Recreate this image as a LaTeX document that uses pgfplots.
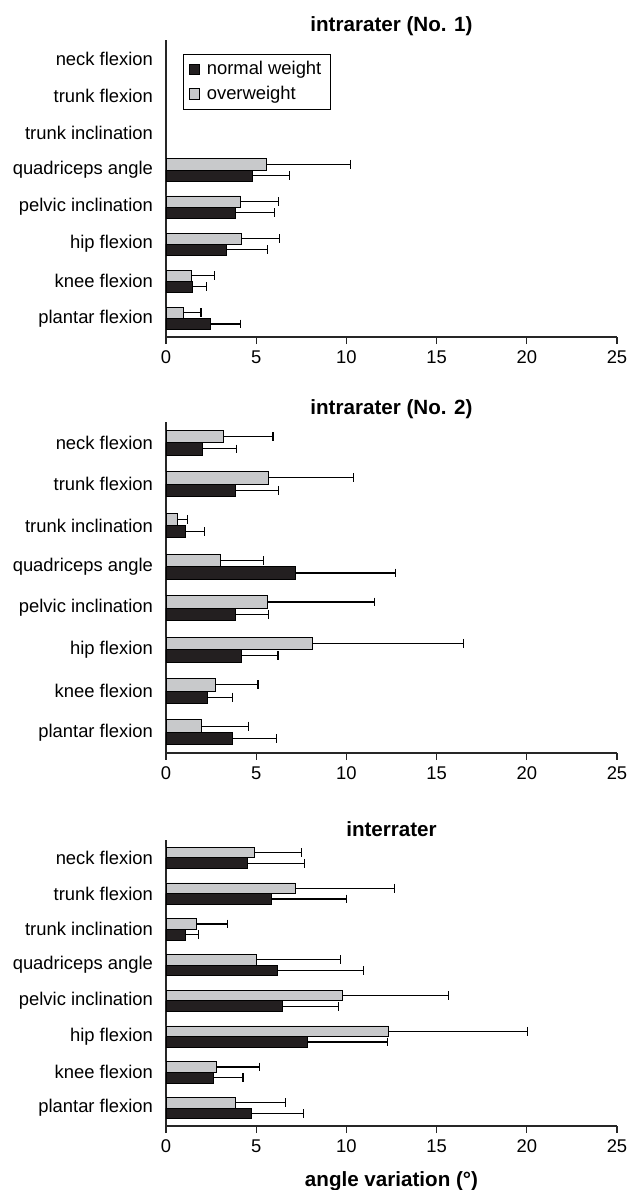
\documentclass[border=0pt]{standalone}
\usepackage{fontspec}
\setmainfont{Liberation Sans}
\usepackage{pgfplots}
\usepackage{pgfplotstable}
\pgfplotsset{compat=1.18}

\definecolor{barblack}{RGB}{35,31,32}
\definecolor{bargray}{RGB}{200,201,203}

% pos: 7 = neck flexion ... 0 = plantar flexion
% nm = normal weight mean, nmhi = mean + SD; ow = overweight mean, owhi = mean + SD
\pgfplotstableread{
pos nm nmhi ow owhi
4 4.78 6.83 5.57 10.24
3 3.82 6.01 4.15 6.24
2 3.36 5.65 4.17 6.31
1 1.44 2.23 1.42 2.68
0 2.47 4.15 0.96 1.94
}\tabA

\pgfplotstableread{
pos nm nmhi ow owhi
7 2.03 3.92 3.19 5.93
6 3.87 6.26 5.69 10.37
5 1.05 2.12 0.64 1.18
4 7.18 12.73 3.02 5.40
3 3.87 5.69 5.62 11.55
2 4.16 6.21 8.14 16.51
1 2.30 3.67 2.74 5.10
0 3.70 6.15 1.99 4.59
}\tabB

\pgfplotstableread{
pos nm nmhi ow owhi
7 4.53 7.70 4.90 7.53
6 5.86 9.99 7.17 12.66
5 1.05 1.81 1.69 3.41
4 6.15 10.94 5.01 9.69
3 6.47 9.54 9.76 15.68
2 7.85 12.27 12.34 20.03
1 2.62 4.27 2.80 5.18
0 4.73 7.63 3.83 6.60
}\tabC

\pgfplotsset{
  panel/.style={
    scale only axis, width=225.5pt,
    xmin=0, xmax=25, ymin=-0.5, ymax=7.5,
    xtick={0,5,10,15,20,25}, ytick={0,...,7},
    yticklabels={plantar flexion,knee flexion,hip flexion,pelvic inclination,quadriceps angle,trunk inclination,trunk flexion,neck flexion},
    axis lines*=left,
    axis line style={line width=0.6pt, black!85},
    tick align=outside, major tick length=3.5pt,
    ytick style={draw=none}, xtick style={line width=0.6pt, black!85},
    tick label style={font=\fontsize{9.2}{11}\selectfont},
    yticklabel style={xshift=0.5pt},
    /pgf/number format/assume math mode=true,
    xbar, bar width=0.3,
    title style={font=\bfseries\fontsize{10.3}{12}\selectfont, anchor=base},
    error bars/x dir=plus, error bars/x explicit,
    error bars/error bar style={line width=0.55pt, black},
    error bars/error mark options={rotate=90, mark size=2.2pt, line width=0.55pt, black},
    legend image code/.code={\draw[#1] (0pt,-2.6pt) rectangle (5.2pt,2.6pt);},
  },
  nw/.style={draw=black, line width=0.4pt, fill=barblack, bar shift=-0.15},
  ow/.style={draw=black, line width=0.4pt, fill=bargray, bar shift=0.15},
}

\begin{document}
\begin{tikzpicture}
\path[use as bounding box] (0,0) rectangle (315pt,-595pt);

\begin{axis}[panel, at={(83pt,-20pt)}, anchor=north west, height=148.5pt,
  title={intrarater (No. 1)}, title style={yshift=-1.5pt},
  legend style={at={(0.038,0.953)}, anchor=north west, draw=black, line width=0.5pt,
    font=\fontsize{9.2}{10}\selectfont, inner xsep=2.5pt, inner ysep=1.5pt, row sep=0pt,
    /tikz/every odd column/.append style={column sep=1.5pt}},
  legend cell align=left]
\addplot[nw] table[x=nm, y=pos, x error expr=\thisrow{nmhi}-\thisrow{nm}] {\tabA};
\addplot[ow] table[x=ow, y=pos, x error expr=\thisrow{owhi}-\thisrow{ow}] {\tabA};
\legend{normal weight, overweight}
\end{axis}

\begin{axis}[panel, at={(83pt,-211pt)}, anchor=north west, height=165.5pt,
  title={intrarater (No. 2)}, title style={yshift=-2pt}]
\addplot[nw] table[x=nm, y=pos, x error expr=\thisrow{nmhi}-\thisrow{nm}] {\tabB};
\addplot[ow] table[x=ow, y=pos, x error expr=\thisrow{owhi}-\thisrow{ow}] {\tabB};
\end{axis}

\begin{axis}[panel, at={(83pt,-420pt)}, anchor=north west, height=143pt,
  title={interrater}, title style={yshift=-4pt},
  xlabel={angle variation (°)},
  xlabel style={font=\bfseries\fontsize{10.3}{12}\selectfont, at={(axis description cs:0.5,0)}, anchor=base, yshift=-30pt}]
\addplot[nw] table[x=nm, y=pos, x error expr=\thisrow{nmhi}-\thisrow{nm}] {\tabC};
\addplot[ow] table[x=ow, y=pos, x error expr=\thisrow{owhi}-\thisrow{ow}] {\tabC};
\end{axis}
\end{tikzpicture}
\end{document}
